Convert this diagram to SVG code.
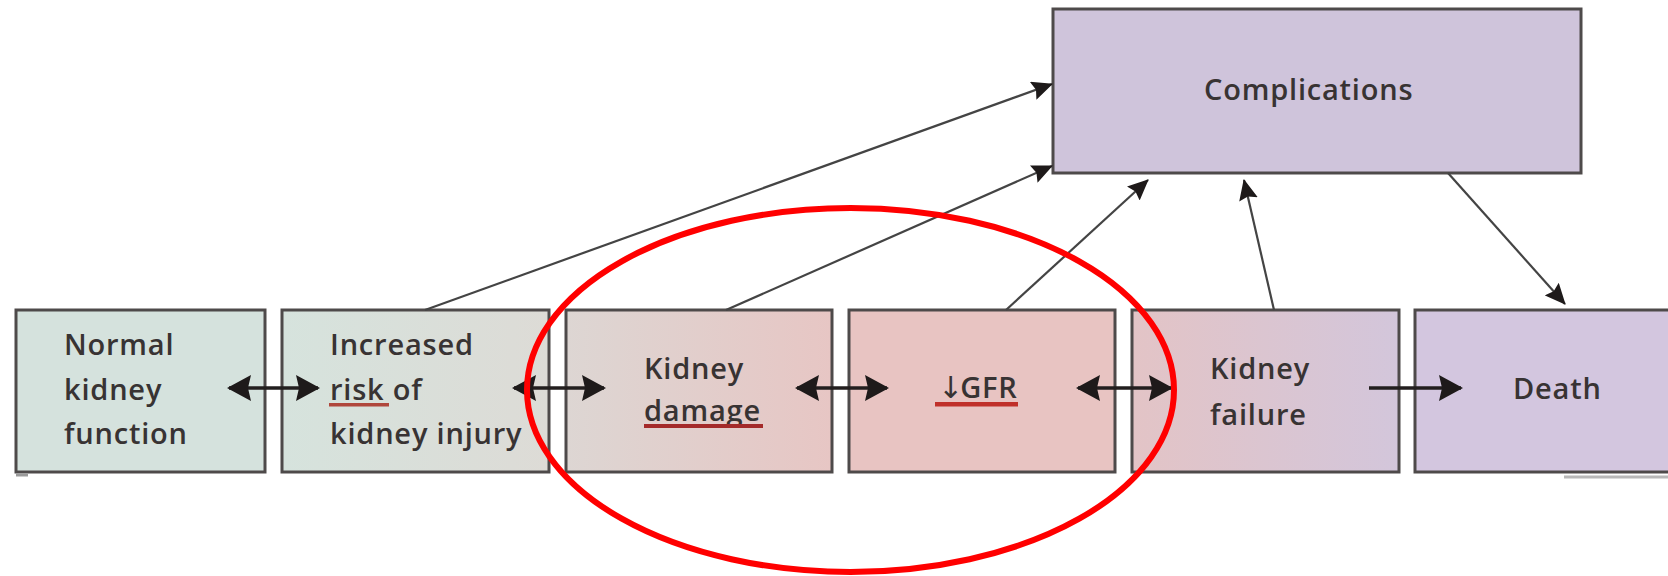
<svg xmlns="http://www.w3.org/2000/svg" width="1668" height="576" viewBox="0 0 1668 576">
  <style>
    .box { stroke: #4e4a4a; stroke-width: 3; }
    .lbl { font-family: "Open Sans", "Liberation Sans", sans-serif; font-weight: 600; font-size: 29px; fill: #383333; letter-spacing: 0.8px; }
    .h { stroke: #221e1e; stroke-width: 3.5; fill: none; }
    .d { stroke: #444; stroke-width: 2.2; fill: none; }
  </style>
  <defs>
    <marker id="ah" viewBox="0 0 24 26" refX="22" refY="13" markerWidth="24" markerHeight="26" markerUnits="userSpaceOnUse" orient="auto-start-reverse">
      <path d="M0,0 L24,13 L0,26 L3,13 z" fill="#1e1a1a"/>
    </marker>
    <marker id="ad" viewBox="0 0 21 19" refX="20" refY="9.5" markerWidth="21" markerHeight="19" markerUnits="userSpaceOnUse" orient="auto">
      <path d="M0,0 L21,9.5 L0,19 L3,9.5 z" fill="#1e1a1a"/>
    </marker>
    <linearGradient id="g2" x1="0" x2="1" y1="0" y2="0">
      <stop offset="0" stop-color="#d6e3dd"/>
      <stop offset="1" stop-color="#dddbd6"/>
    </linearGradient>
    <linearGradient id="g3" x1="0" x2="1" y1="0" y2="0">
      <stop offset="0" stop-color="#ddd6d3"/>
      <stop offset="1" stop-color="#e7c6c4"/>
    </linearGradient>
    <linearGradient id="g5" x1="0" x2="1" y1="0" y2="0">
      <stop offset="0" stop-color="#e3c4c6"/>
      <stop offset="1" stop-color="#d3c6db"/>
    </linearGradient>
  </defs>
  <rect width="1668" height="576" fill="#ffffff"/>

  <g id="node-normal">
    <rect class="box" x="16" y="310" width="249" height="162" fill="#d5e2dd"/>
    <text class="lbl" x="64" y="355">Normal</text>
    <text class="lbl" x="64" y="400">kidney</text>
    <text class="lbl" x="64" y="444">function</text>
    <path d="M16,475 L28,475" stroke="#9a9a9a" stroke-width="3"/>
  </g>

  <g id="node-risk">
    <rect class="box" x="282" y="310" width="267" height="162" fill="url(#g2)"/>
    <text class="lbl" x="330" y="355">Increased</text>
    <text class="lbl" x="330" y="400">risk of</text>
    <text class="lbl" x="330" y="444">kidney injury</text>
    <rect x="329" y="403" width="60" height="3.5" fill="#b0473c"/>
  </g>

  <g id="node-damage">
    <rect class="box" x="566" y="310" width="266" height="162" fill="url(#g3)"/>
    <text class="lbl" x="644" y="379">Kidney</text>
    <text class="lbl" x="644" y="421">damage</text>
    <rect x="644" y="424" width="119" height="4" fill="#a42a2a"/>
  </g>

  <g id="node-gfr">
    <rect class="box" x="849" y="310" width="266" height="162" fill="#e8c4c2"/>
    <text class="lbl" x="938" y="398"><tspan font-family="DejaVu Sans, sans-serif" font-weight="400" font-size="30px" letter-spacing="-3px">↓</tspan>GFR</text>
    <rect x="935" y="402" width="83" height="4.5" fill="#c0302a"/>
  </g>

  <g id="node-failure">
    <rect class="box" x="1132" y="310" width="267" height="162" fill="url(#g5)"/>
    <text class="lbl" x="1210" y="379">Kidney</text>
    <text class="lbl" x="1210" y="425">failure</text>
  </g>

  <g id="node-death">
    <rect class="box" x="1415" y="310" width="270" height="162" fill="#d3c6df"/>
    <text class="lbl" x="1513" y="399">Death</text>
    <path d="M1564,477 L1668,477" stroke="#b8b8b8" stroke-width="3"/>
  </g>

  <g id="node-complications">
    <rect class="box" x="1053" y="9" width="528" height="164" fill="#cfc4db"/>
    <text class="lbl" x="1204" y="100">Complications</text>
  </g>

  <g id="connectors">
    <line class="h" x1="229" y1="388" x2="318" y2="388" marker-start="url(#ah)" marker-end="url(#ah)"/>
    <line class="h" x1="514" y1="388" x2="604" y2="388" marker-start="url(#ah)" marker-end="url(#ah)"/>
    <line class="h" x1="797" y1="388" x2="887" y2="388" marker-start="url(#ah)" marker-end="url(#ah)"/>
    <line class="h" x1="1078" y1="388" x2="1171" y2="388" marker-start="url(#ah)" marker-end="url(#ah)"/>
    <line class="h" x1="1369" y1="388" x2="1461" y2="388" marker-end="url(#ah)"/>
    <line class="d" x1="425" y1="310" x2="1052" y2="84" marker-end="url(#ad)"/>
    <line class="d" x1="726" y1="310" x2="1052" y2="166" marker-end="url(#ad)"/>
    <line class="d" x1="1006" y1="310" x2="1148" y2="180" marker-end="url(#ad)"/>
    <line class="d" x1="1274" y1="310" x2="1244" y2="180" marker-end="url(#ad)"/>
    <line class="d" x1="1448" y1="173" x2="1565" y2="304" marker-end="url(#ad)"/>
  </g>

  <ellipse id="highlight" cx="850.5" cy="390" rx="323.5" ry="182" fill="none" stroke="#ff0000" stroke-width="6"/>
</svg>
